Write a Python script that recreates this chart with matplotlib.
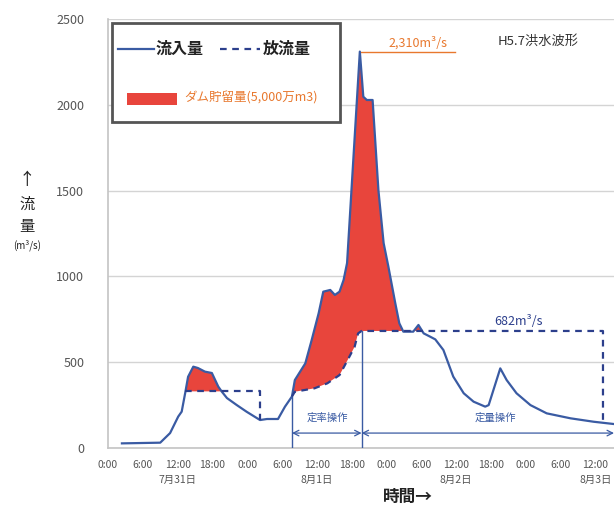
import numpy as np
import matplotlib
matplotlib.use("Agg")
import matplotlib.pyplot as plt
from matplotlib.patches import Rectangle
from matplotlib.lines import Line2D

plt.rcParams['font.family'] = ['Noto Sans CJK JP', 'DejaVu Sans']

# ---- data (hours from 7/31 0:00, m3/s) ----
inflow_t = [2.4, 9.0, 10.7, 12.1, 12.7, 13.3, 13.8, 14.7, 15.5, 16.7, 17.9, 19.0, 19.6,
            20.5, 22.2, 23.9, 26.2, 27.4, 29.3, 30.5, 31.7, 32.2, 34.0, 35.1, 36.3,
            37.1, 38.3, 39.1, 39.9, 40.6, 41.2, 43.4, 44.0, 44.6, 45.6,
            46.6, 47.5, 48.3, 49.5, 50.2, 50.9, 52.6, 53.5, 54.4, 55.5, 56.4, 57.8,
            59.5, 61.3, 63.0, 65.0, 65.6, 67.6, 68.7, 70.4, 72.8, 75.6, 79.7, 83.7, 87.1]
inflow_v = [27, 31, 87, 183, 212, 320, 415, 474, 466, 445, 437, 358, 329,
            291, 250, 211, 163, 169, 169, 241, 300, 396, 493, 629, 785,
            911, 921, 892, 911, 979, 1078, 2310, 2047, 2028, 2028,
            1503, 1194, 1060, 845, 727, 678, 678, 717, 668, 649, 633, 571,
            416, 319, 270, 241, 250, 464, 396, 319, 250, 202, 173, 153, 140]

# controlled outflow (dashed) during the two storage operations
out1_t = [13.3, 26.2, 26.2]
out1_v = [330, 330, 163]
out2_t = [31.7, 32.2, 35.6, 37.8, 39.9, 41.3, 42.5, 43.1, 43.7, 85.3, 85.3]
out2_v = [300, 328, 348, 377, 425, 513, 590, 668, 682, 682, 150]

peak_t, peak_v = 43.4, 2310
rate_start, rate_end = 31.7, 43.7
xtick_pos = list(range(0, 85, 6))
xtick_labels = ["0:00", "6:00", "12:00", "18:00"] * 3 + ["0:00", "6:00", "12:00"]
date_pos = [12, 36, 60, 84]
date_labels = ["7月31日", "8月1日", "8月2日", "8月3日"]
yticks = [0, 500, 1000, 1500, 2000, 2500]

# ---- figure ----
fig = plt.figure(figsize=(6.14, 5.08), dpi=100)
ax = fig.add_axes([108/614, 1-448/508, 1-108/614, (448-19)/508])
ax.set_xlim(0, 87.2)
ax.set_ylim(0, 2500)

blue = "#3a5ba3"
dblue = "#2c3f8c"
red = "#e8453c"
orange = "#e8782e"

# outflow function on union grid for the fill
it = np.array(inflow_t, float); iv = np.array(inflow_v, float)
tg = np.unique(np.concatenate([it, out1_t[:2], out2_t[:-1]]))
inf_g = np.interp(tg, it, iv)
out_g = inf_g.copy()
m1 = (tg >= out1_t[0]) & (tg < out1_t[1])
out_g[m1] = np.interp(tg[m1], out1_t[:2], out1_v[:2])
m2 = (tg >= out2_t[0]) & (tg < out2_t[-1])
out_g[m2] = np.interp(tg[m2], out2_t[:-1], out2_v[:-1])
ax.fill_between(tg, out_g, inf_g, where=inf_g > out_g, interpolate=True,
                color=red, lw=0, zorder=2)

ax.plot(inflow_t, inflow_v, color=blue, lw=1.6, zorder=4)
ax.plot(out1_t, out1_v, color=dblue, lw=1.6, ls=(0, (3, 2.5)), zorder=5)
ax.plot(out2_t, out2_v, color=dblue, lw=1.6, ls=(0, (3, 2.5)), zorder=5)

# operation markers
ax.plot([rate_start, rate_start], [0, np.interp(rate_start, it, iv)], color=blue, lw=1.0, zorder=3)
ax.plot([rate_end, rate_end], [0, 682], color=blue, lw=1.0, zorder=3)
ax.annotate("", xy=(rate_start, 87), xytext=(rate_end, 87),
            arrowprops=dict(arrowstyle="<->", color=blue, lw=0.9, shrinkA=0, shrinkB=0))
ax.annotate("", xy=(rate_end, 87), xytext=(87.2, 87),
            arrowprops=dict(arrowstyle="<->", color=blue, lw=0.9, shrinkA=0, shrinkB=0))
ax.text(37.8, 175, "定率操作", color=blue, fontsize=7.5, ha="center", va="center")
ax.text(66.7, 175, "定量操作", color=blue, fontsize=7.5, ha="center", va="center")

# annotations
ax.plot([peak_t, 59.8], [peak_v, peak_v], color=orange, lw=1.0, zorder=3)
ax.text(53.5, peak_v + 10, "2,310m³/s", color=orange, fontsize=9, ha="center", va="bottom")
ax.text(70.7, 700, "682m³/s", color=dblue, fontsize=9, ha="center", va="bottom")
ax.text(74.2, 2372, "H5.7洪水波形", color="#333333", fontsize=9.5, ha="center", va="center")

# axes styling
ax.set_yticks(yticks)
ax.set_yticklabels([str(v) for v in yticks], fontsize=9, color="#555555")
ax.set_xticks(xtick_pos)
ax.set_xticklabels(xtick_labels, fontsize=7.5, color="#555555")
ax.tick_params(axis="both", length=0)
ax.tick_params(axis="y", pad=17)
ax.tick_params(axis="x", pad=9)
ax.grid(axis="y", color="#d4d4d4", lw=1.0)
ax.set_axisbelow(True)
for s in ["top", "right"]:
    ax.spines[s].set_visible(False)
for s in ["left", "bottom"]:
    ax.spines[s].set_color("#c4c4c4")
    ax.spines[s].set_linewidth(1.2)

for p, lab in zip(date_pos, date_labels):
    ax.text(p, -185, lab, fontsize=7.5, color="#555555", ha="center", va="center")

# y label
fig.text(27/614, 1-180/508, "↑", fontsize=12, ha="center", va="center", color="#222222")
fig.text(27/614, 1-204/508, "流", fontsize=11, ha="center", va="center", color="#222222")
fig.text(27/614, 1-226/508, "量", fontsize=11, ha="center", va="center", color="#222222")
fig.text(27/614, 1-245/508, "(m³/s)", fontsize=7, ha="center", va="center", color="#222222")
fig.text(408/614, 1-497/508, "時間→", fontsize=12, ha="center", va="center",
         color="#222222", fontweight="bold")

# legend box
fig.patches.append(Rectangle((112/614, 1-122/508), (340-112)/614, (122-23)/508,
                             transform=fig.transFigure, fill=True, facecolor="white",
                             edgecolor="#555555", lw=2.0, zorder=6))
fig.lines.append(Line2D([118/614, 154/614], [1-49/508, 1-49/508], transform=fig.transFigure,
                        color=blue, lw=1.6, zorder=7))
fig.text(156/614, 1-49/508, "流入量", fontsize=11.5, va="center", color="#222222",
         fontweight="bold", zorder=7)
fig.lines.append(Line2D([220/614, 260/614], [1-49/508, 1-49/508], transform=fig.transFigure,
                        color=dblue, lw=1.6, ls=(0, (3, 2.5)), zorder=7))
fig.text(263/614, 1-49/508, "放流量", fontsize=11.5, va="center", color="#222222",
         fontweight="bold", zorder=7)
fig.patches.append(Rectangle((127/614, 1-105/508), 50/614, 12/508, transform=fig.transFigure,
                             facecolor=red, edgecolor="none", zorder=7))
fig.text(184/614, 1-98/508, "ダム貯留量(5,000万m3)", fontsize=9, va="center",
         color=orange, zorder=7)

fig.savefig("out.png", dpi=100)
